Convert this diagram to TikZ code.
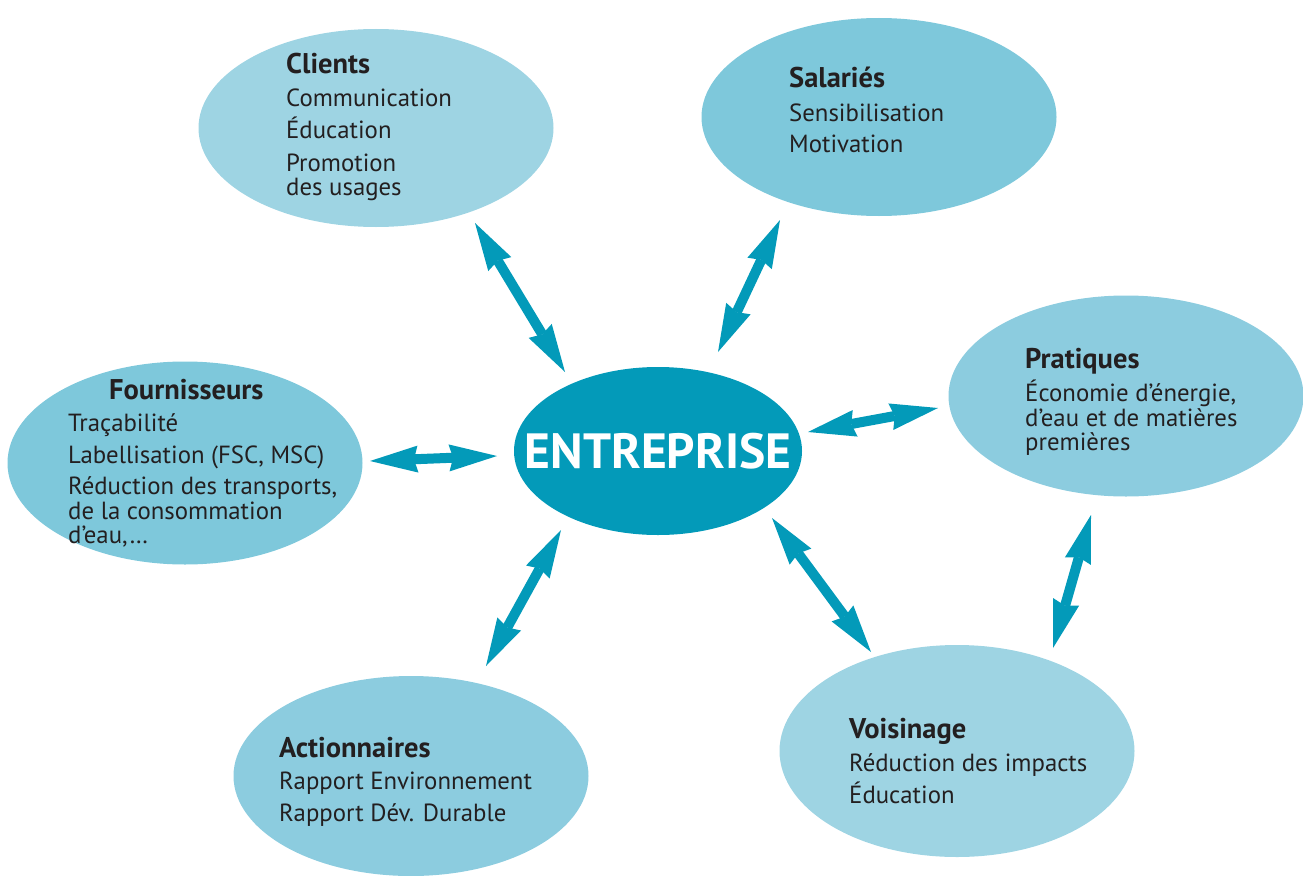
\documentclass[tikz,border=0pt]{standalone}
\usepackage{fontspec}
\setmainfont{PT Sans}
\usetikzlibrary{arrows.meta,shapes.geometric}

\definecolor{core}{HTML}{039AB9}
\definecolor{ink}{HTML}{231F20}
\definecolor{bubA}{HTML}{9ED4E3}
\definecolor{bubB}{HTML}{7EC8DB}
\definecolor{bubC}{HTML}{8CCCDF}

\newcommand{\bodysize}{\fontsize{24.8pt}{24.5pt}\selectfont}
\newcommand{\headsize}{\fontsize{28.5pt}{24.5pt}\selectfont\bfseries}
% a block of lines, baseline at the first line, fixed line pitch
\newcommand{\tblock}[1]{\vtop{\baselineskip=24.5pt\lineskiplimit=-\maxdimen\lineskip=0pt #1}}
\newcommand{\tline}[1]{\hbox{#1}}
\newcommand{\thead}[1]{\hbox{\headsize #1}\vskip 8.5pt}
\newcommand{\tgap}{\vskip 7.5pt}

\begin{document}
\begin{tikzpicture}[x=1pt,y=-1pt,
  bubble/.style={ellipse, draw=none, inner sep=0pt, minimum width=355pt, minimum height=198pt},
  hub/.style={ellipse, draw=none, fill=core, inner sep=0pt, minimum width=288pt, minimum height=168pt},
  hubtext/.style={text=white, font=\fontsize{49.5pt}{50pt}\selectfont\bfseries, inner sep=0pt},
  label/.style={anchor=base west, inner sep=0pt, text=ink, font=\bodysize},
  link/.style={draw=core, line width=10pt,
    arrows={Stealth[length=48pt,width=27pt,inset=4pt,line width=0pt]-Stealth[length=48pt,width=27pt,inset=4pt,line width=0pt]}}
]
\useasboundingbox (0,0) rectangle (1303,875);

% surrounding bubbles
\node[bubble, fill=bubA] (cli) at (376,128) {};
\node[bubble, fill=bubB] (sal) at (879,117) {};
\node[bubble, fill=bubC, minimum height=201pt] (pra) at (1126,396) {};
\node[bubble, fill=bubB, minimum height=203pt] (fou) at (185,463) {};
\node[bubble, fill=bubC, minimum height=200pt] (act) at (411,776) {};
\node[bubble, fill=bubA, minimum height=212pt] (voi) at (957,751) {};

% central node and its title
\node[hub] (ent) at (658,451) {};
\node[hubtext] (entname) at (ent.center) {ENTREPRISE};

% texts
\node[label] (tcli) at (286,74) {\tblock{%
  \thead{Clients}
  \tline{Communication}\tgap
  \tline{Éducation}\tgap
  \tline{Promotion}
  \tline{des usages}}};

\node[label] (tsal) at (789,88) {\tblock{%
  \thead{Salariés}
  \tline{Sensibilisation}\tgap
  \tline{Motivation}}};

\node[label] (tpra) at (1025,368) {\tblock{%
  \hbox{\headsize Pratiques}\vskip 9pt
  \tline{Économie d’énergie,}
  \tline{d’eau et de matières}
  \tline{premières}}};

\node[label] (tfou) at (68,399) {\tblock{%
  \hbox{\hspace*{41pt}\headsize Fournisseurs}\vskip 8pt
  \tline{Traçabilité}\vskip 7pt
  \tline{Labellisation (FSC, MSC)}\vskip 7pt
  \tline{Réduction des transports,}
  \tline{de la consommation}
  \tline{d’eau,…}}};

\node[label] (tact) at (279,757) {\tblock{%
  \hbox{\headsize Actionnaires}\vskip 7.5pt
  \tline{Rapport Environnement}\tgap
  \tline{Rapport Dév. Durable}}};

\node[label] (tvoi) at (849,738) {\tblock{%
  \thead{Voisinage}
  \tline{Réduction des impacts}\tgap
  \tline{Éducation}}};

% arrow ends
\coordinate (c1) at (475,223); \coordinate (e1) at (565,372);
\coordinate (c2) at (780,220); \coordinate (e2) at (718,352);
\coordinate (c3) at (938,408); \coordinate (e3) at (808,432);
\coordinate (c4) at (370,461); \coordinate (e4) at (497,456);
\coordinate (c5) at (486,666); \coordinate (e5) at (561,530);
\coordinate (c6) at (871,652); \coordinate (e6) at (772,518);
\coordinate (c7) at (1091,515); \coordinate (e7) at (1053,648);

% two-way links
\draw[link] (c1) -- (e1);
\draw[link] (c2) -- (e2);
\draw[link] (c3) -- (e3);
\draw[link] (c4) -- (e4);
\draw[link] (c5) -- (e5);
\draw[link] (c6) -- (e6);
\draw[link] (c7) -- (e7);
\end{tikzpicture}
\end{document}
